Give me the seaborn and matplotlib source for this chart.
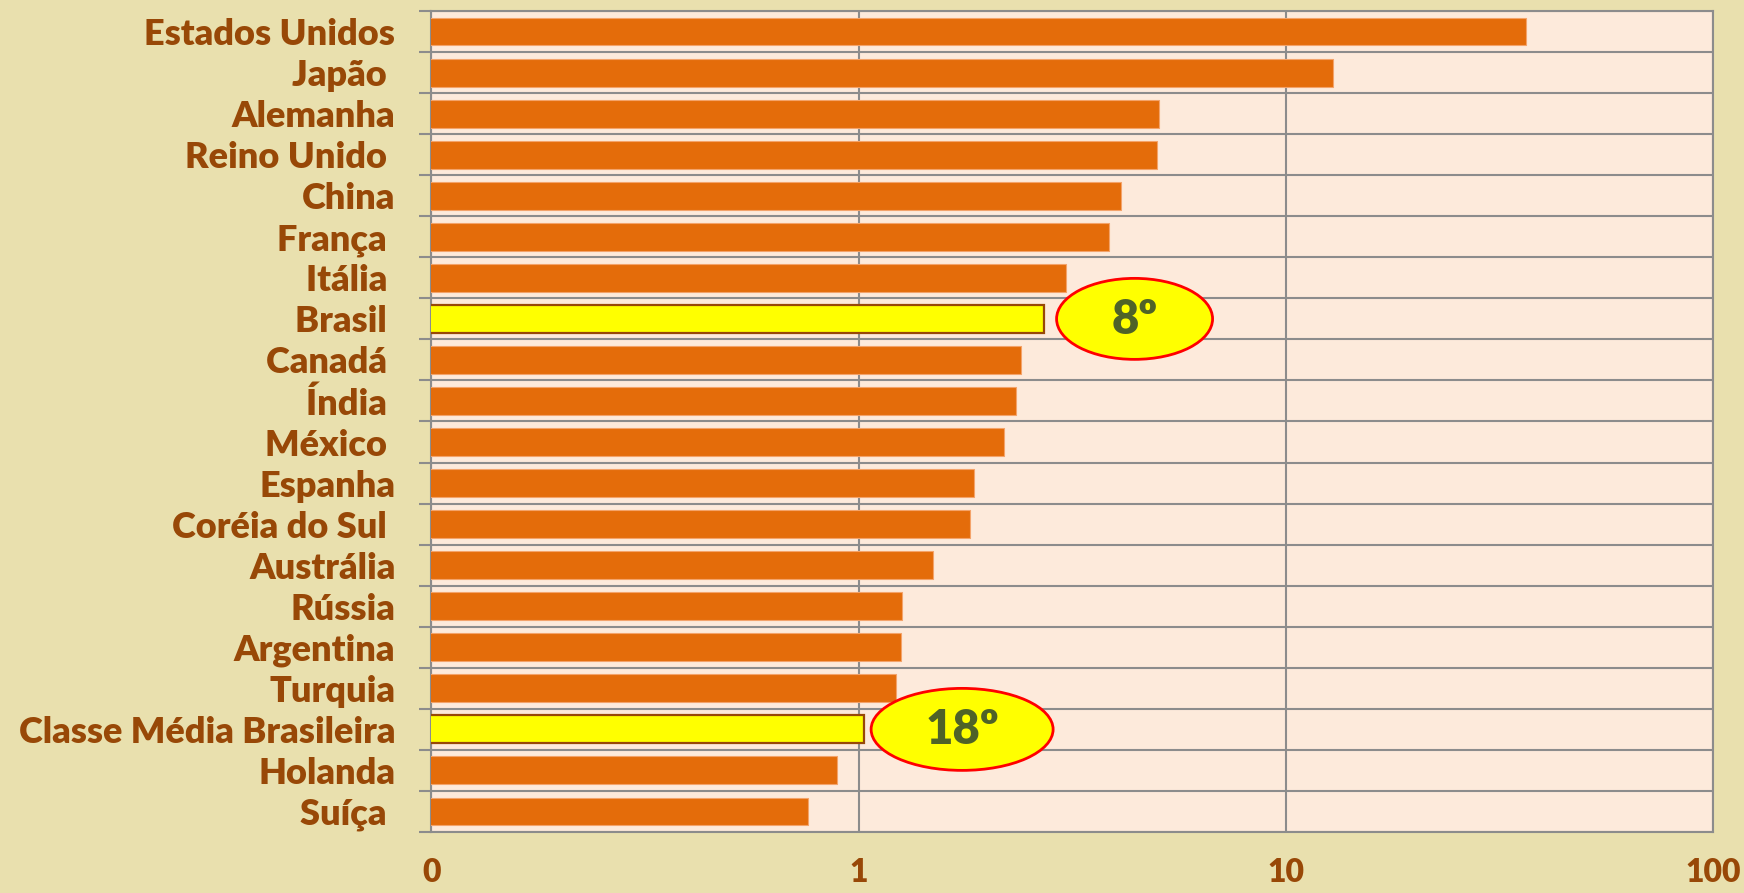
import matplotlib
matplotlib.use("Agg")
import matplotlib.pyplot as plt
import matplotlib.transforms as mtransforms
from matplotlib.patches import Ellipse
from matplotlib.ticker import FixedLocator, NullLocator
import seaborn as sns
import pandas as pd

# ---- data ----
categories = ["Estados Unidos", "Japão ", "Alemanha", "Reino Unido ", "China", "França ",
              "Itália ", "Brasil ", "Canadá ", "Índia ", "México ", "Espanha",
              "Coréia do Sul ", "Austrália", "Rússia", "Argentina", "Turquia",
              "Classe Média Brasileira", "Holanda", "Suíça "]
values = [36.5, 12.9, 5.05, 5.0, 4.12, 3.85, 3.05, 2.71, 2.40, 2.34, 2.19, 1.86,
          1.82, 1.49, 1.264, 1.256, 1.22, 1.03, 0.892, 0.76]
highlight = {"Brasil ": "8º", "Classe Média Brasileira": "18º"}
x_ticks = [0.1, 1, 10, 100]
x_tick_labels = ["0", "1", "10", "100"]

# ---- style ----
BG = "#E9E0AE"
PLOT_BG = "#FDEADB"
ORANGE = "#E46C0A"
YELLOW = "#FFFF00"
BROWN = "#984807"
GRID = "#8C8C8C"
OLIVE = "#4F6228"

sns.set_style("white")
plt.rcParams["font.family"] = ["Lato", "DejaVu Sans"]

df = pd.DataFrame({"pais": categories, "valor": values})
palette = {c: (YELLOW if c in highlight else ORANGE) for c in categories}

fig = plt.figure(figsize=(17.44, 8.93), dpi=100, facecolor=BG)
ax = fig.add_axes([0.2474, 0.0683, 0.9822 - 0.2474, 0.9877 - 0.0683])
ax.set_facecolor(PLOT_BG)

sns.barplot(data=df, x="valor", y="pais", hue="pais", palette=palette,
            orient="h", width=0.68, legend=False, ax=ax, zorder=3, saturation=1)

ax.set_xscale("log")
ax.set_xlim(0.1, 100)
ax.set_ylim(len(categories) - 0.5, -0.5)

# bar edges
for patch in ax.patches:
    yc = patch.get_y() + patch.get_height() / 2
    idx = int(round(yc))
    if categories[idx] in highlight:
        patch.set_edgecolor(BROWN)
        patch.set_linewidth(1.6)
    else:
        patch.set_edgecolor("#F4A36A")
        patch.set_linewidth(0.8)

# x axis
ax.xaxis.set_major_locator(FixedLocator(x_ticks))
ax.xaxis.set_minor_locator(NullLocator())
ax.set_xticklabels(x_tick_labels)
ax.tick_params(axis="x", which="major", length=0, pad=19,
               labelsize=23, labelcolor=BROWN)
for t in ax.get_xticklabels():
    t.set_fontweight("heavy")

# y axis
ax.set_yticks(range(len(categories)))
ax.set_yticklabels(categories)
ax.yaxis.set_minor_locator(FixedLocator([i + 0.5 for i in range(-1, len(categories))]))
ax.tick_params(axis="y", which="major", length=0, pad=26,
               labelsize=26, labelcolor=BROWN)
ax.tick_params(axis="y", which="minor", length=9, width=1.5, color=GRID, direction="out",
               left=True)
for t in ax.get_yticklabels():
    t.set_fontweight("heavy")

ax.set_xlabel("")
ax.set_ylabel("")

# grid
ax.grid(False)
ax.grid(True, axis="x", which="major", color=GRID, linewidth=1.5, zorder=1)
ax.grid(True, axis="y", which="minor", color=GRID, linewidth=1.5, zorder=1)
ax.set_axisbelow(True)
for s in ax.spines.values():
    s.set_visible(True)
    s.set_color(GRID)
    s.set_linewidth(1.5)

# ranking ellipses
ell_specs = {"Brasil ": (91, 156, 81), "Classe Média Brasileira": (98, 182, 82)}
for cat, label in highlight.items():
    i = categories.index(cat)
    v = values[i]
    dx, w, h = ell_specs[cat]
    trans = mtransforms.Affine2D().translate(dx, 0) + \
        mtransforms.ScaledTranslation(v, i, ax.transData)
    e = Ellipse((0, 0), w, h, facecolor=YELLOW, edgecolor="#FF0000",
                linewidth=2, transform=trans, zorder=5, clip_on=False)
    ax.add_artist(e)
    ax.annotate(label, xy=(v, i), xytext=(dx, -1), textcoords="offset pixels",
                ha="center", va="center", fontsize=34, fontweight="heavy",
                color=OLIVE, zorder=6)

fig.savefig("out.png", dpi=100, facecolor=BG)
